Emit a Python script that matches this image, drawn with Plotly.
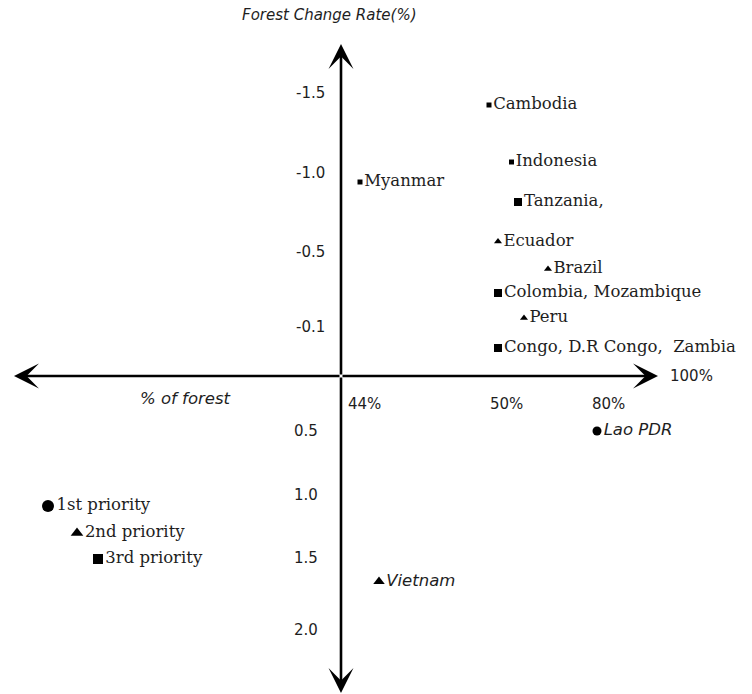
import plotly.graph_objects as go

# ---------------- data (schematic positions) ----------------
countries = ["Cambodia", "Indonesia", "Tanzania,", "Myanmar", "Ecuador", "Brazil",
             "Colombia, Mozambique", "Peru", "Congo, D.R Congo,  Zambia", "Lao PDR", "Vietnam"]
forest_share = [1.48, 1.705, 1.77, 0.19, 1.57, 2.07, 1.57, 1.83, 1.57, 2.56, 0.38]
change_rate = [2.71, 2.14, 1.74, 1.94, 1.345, 1.07, 0.83, 0.58, 0.28, -0.55, -2.055]
priority = [3, 3, 3, 3, 2, 2, 3, 2, 3, 1, 2]

legend_labels = ["1st priority", "2nd priority", "3rd priority"]
legend_x = [-2.93, -2.64, -2.43]
legend_y = [-1.30, -1.57, -1.83]

y_tick_labels = ["-1.5", "-1.0", "-0.5", "-0.1", "0.5", "1.0", "1.5", "2.0"]
y_tick_pos = [2.83, 2.03, 1.24, 0.49, -0.55, -1.19, -1.82, -2.54]
x_tick_labels = ["44%", "50%", "80%"]
x_tick_pos = [0.23, 1.65, 2.67]

# ---------------- styles ----------------
symbol_by_priority = {1: "circle", 2: "triangle-up", 3: "square"}
marker_px = [5, 5, 8, 5, 7, 7, 8, 7, 8, 9, 10]
italic_names = {"Lao PDR", "Vietnam"}
SERIF = "DejaVu Serif"
SANS = "DejaVu Sans"
TXT = "#1e1e1e"

fig = go.Figure()

reg = [i for i, c in enumerate(countries) if c not in italic_names]
ita = [i for i, c in enumerate(countries) if c in italic_names]

for idx, fam, style, fs in [(reg, SERIF, "normal", 16.5), (ita, SANS, "italic", 16.5)]:
    fig.add_trace(go.Scatter(
        x=[forest_share[i] for i in idx],
        y=[change_rate[i] for i in idx],
        mode="markers+text",
        text=[countries[i] for i in idx],
        textposition="middle right",
        textfont=dict(family=fam, size=fs, color=TXT, style=style),
        marker=dict(symbol=[symbol_by_priority[priority[i]] for i in idx],
                    size=[marker_px[i] for i in idx], color="black", opacity=1,
                    line=dict(width=0)),
        showlegend=False, hoverinfo="skip", cliponaxis=False,
    ))

fig.add_trace(go.Scatter(
    x=legend_x, y=legend_y, mode="markers+text", text=legend_labels,
    textposition="middle right",
    textfont=dict(family=SERIF, size=16.5, color=TXT),
    marker=dict(symbol=[symbol_by_priority[p] for p in (1, 2, 3)], size=[12, 11, 10],
                color="black", opacity=1, line=dict(width=0)),
    showlegend=False, hoverinfo="skip", cliponaxis=False,
))

annotations = []
# axis arrows
for (hx, hy) in [(0, 3.32), (0, -3.17), (-3.27, 0), (3.17, 0)]:
    annotations.append(dict(x=hx, y=hy, ax=0, ay=0, xref="x", yref="y", axref="x", ayref="y",
                            text="", showarrow=True, arrowhead=3, arrowsize=1.6,
                            arrowwidth=2.6, arrowcolor="black", standoff=0, startstandoff=0))
for lab, pos in zip(y_tick_labels, y_tick_pos):
    right = -0.14 if pos > 0 else -0.21
    annotations.append(dict(x=right, y=pos, xref="x", yref="y", text=lab, showarrow=False,
                            xanchor="right", yanchor="middle",
                            font=dict(family=SANS, size=15, color=TXT)))
for lab, pos in zip(x_tick_labels, x_tick_pos):
    annotations.append(dict(x=pos, y=-0.28, xref="x", yref="y", text=lab, showarrow=False,
                            xanchor="center", yanchor="middle",
                            font=dict(family=SANS, size=15, color=TXT)))
annotations.append(dict(x=3.27, y=0.0, xref="x", yref="y", text="100%", showarrow=False,
                        xanchor="left", yanchor="middle", font=dict(family=SANS, size=15, color=TXT)))
annotations.append(dict(x=-1.56, y=-0.22, xref="x", yref="y", text="% of forest", showarrow=False,
                        xanchor="center", yanchor="middle",
                        font=dict(family=SANS, size=16.5, color=TXT, style="italic")))
annotations.append(dict(x=-0.115, y=3.61, xref="x", yref="y", text="Forest Change Rate(%)",
                        showarrow=False, xanchor="center", yanchor="middle",
                        font=dict(family=SANS, size=15, color=TXT, style="italic")))

fig.update_layout(
    width=752, height=694,
    margin=dict(l=0, r=0, t=0, b=0),
    paper_bgcolor="white", plot_bgcolor="white",
    xaxis=dict(range=[-3.41, 4.11], visible=False, fixedrange=True),
    yaxis=dict(range=[-3.18, 3.76], visible=False, fixedrange=True),
    annotations=annotations,
    showlegend=False,
)

# remove the default 8px page margin so the figure fills the window exactly
fig.write_html("out.html", config={"displayModeBar": False},
               post_script="document.body.style.margin='0';")
